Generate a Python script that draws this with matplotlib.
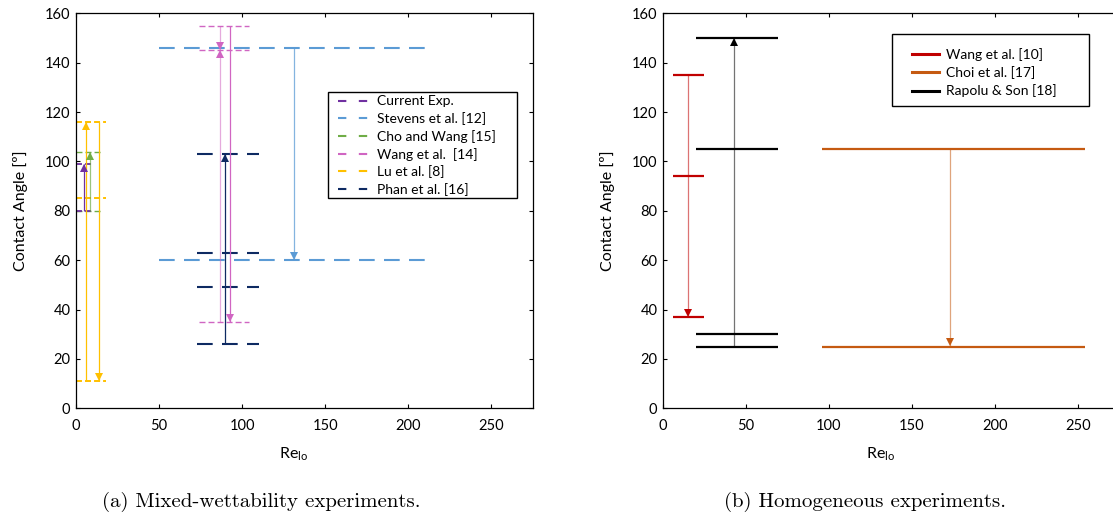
import matplotlib
matplotlib.use("Agg")
import matplotlib.pyplot as plt
from matplotlib.lines import Line2D
from matplotlib.patches import Rectangle
from matplotlib.transforms import offset_copy

plt.rcParams["font.family"] = ["Lato", "DejaVu Sans"]
plt.rcParams["mathtext.fontset"] = "custom"
plt.rcParams["mathtext.rm"] = "Lato"
plt.rcParams["mathtext.it"] = "Lato:italic"
plt.rcParams["lines.scale_dashes"] = False

# ---------------- data: mixed-wettability studies ----------------
current_re = [0, 10]
current_angles = [99, 80]
current_arrows = [(5, 80, 99)]

stevens_re = [50, 212]
stevens_angles = [146, 60]
stevens_arrows = [(131, 146, 60)]

cho_re = [0, 15]
cho_angles = [104, 80]
cho_arrows = [(8.5, 80, 104)]

wang14_re = [74, 104]
wang14_angles = [155, 145, 35]
wang14_arrows = [(87, 155, 145), (87, 35, 145), (93, 155, 35)]

lu_re = [0, 18]
lu_angles = [116, 85, 11]
lu_arrows = [(6, 11, 116), (14, 116, 11)]

phan_re = [73, 110]
phan_angles = [103, 63, 49, 26]
phan_arrows = [(90, 26, 103)]

mixed_labels = ["Current Exp.", "Stevens et al. [12]", "Cho and Wang [15]",
                "Wang et al.  [14]", "Lu et al. [8]", "Phan et al. [16]"]

# ---------------- data: homogeneous studies ----------------
wang10_re = [6, 25]
wang10_angles = [135, 94, 37]
wang10_arrows = [(15, 135, 37)]

choi_re = [96, 254]
choi_angles = [105, 25]
choi_arrows = [(173, 105, 25)]

rapolu_re = [20, 69]
rapolu_angles = [150, 105, 30, 25]
rapolu_arrows = [(43, 25, 150)]

homog_labels = ["Wang et al. [10]", "Choi et al. [17]", "Rapolu & Son [18]"]

x_ticks = [0, 50, 100, 150, 200, 250]
y_ticks = [0, 20, 40, 60, 80, 100, 120, 140, 160]

# ---------------- colours ----------------
C_PURPLE = "#7030A0"
C_BLUE = "#5B9BD5"
C_GREEN = "#70AD47"
C_PINK = "#D065C2"
C_GOLD = "#FFC000"
C_NAVY = "#0E2A62"
C_RED = "#C00000"
C_ORANGE = "#C55A11"
C_BLACK = "#000000"

W, H = 1113, 517
fig = plt.figure(figsize=(W / 100, H / 100), dpi=100)


def add_axes_px(x0, x1, ytop, ybot):
    return fig.add_axes([x0 / W, 1 - ybot / H, (x1 - x0) / W, (ybot - ytop) / H])


def style_axes(ax):
    ax.set_xlim(0, 275)
    ax.set_ylim(0, 160)
    ax.set_xticks(x_ticks)
    ax.set_yticks(y_ticks)
    ax.tick_params(direction="in", length=3, width=0.8, top=True, right=True,
                   labelsize=10.5)
    ax.tick_params(axis="x", pad=8)
    ax.tick_params(axis="y", pad=4)
    for s in ax.spines.values():
        s.set_linewidth(0.9)
    ax.set_xlabel(r"$\mathrm{Re}_{\mathrm{lo}}$", fontsize=11.5)
    ax.set_ylabel("Contact Angle [º]", fontsize=11.5)
    ax.xaxis.set_label_coords(0.477, -0.095)
    ax.yaxis.set_label_coords(-0.105, 0.5)


def levels(ax, re, angles, color, lw, dashes=None):
    for a in angles:
        if dashes is None:
            ax.plot(re, [a, a], color=color, lw=lw, solid_capstyle="butt", zorder=2)
        else:
            ax.plot(re, [a, a], color=color, lw=lw, dashes=dashes,
                    dash_capstyle="butt", zorder=2)


def arrows(ax, items, color, alpha=1.0, lw=0.9, ms=6):
    for x, start, end in items:
        ax.plot([x, x], [start, end], color=color, alpha=alpha, lw=lw,
                solid_capstyle="butt", zorder=3)
        up = end > start
        tr = offset_copy(ax.transData, fig=fig, y=(-ms / 2 if up else ms / 2),
                         units="points")
        ax.plot([x], [end], marker="^" if up else "v", ms=ms, color=color,
                mew=0, transform=tr, zorder=4)


# ================= (a) mixed wettability =================
ax1 = add_axes_px(76, 532.7, 13.3, 408.3)
style_axes(ax1)

long_dash = (11.3, 6.7)
short_dash = (4.3, 2.2)

levels(ax1, stevens_re, stevens_angles, C_BLUE, 1.5, long_dash)
levels(ax1, phan_re, phan_angles, C_NAVY, 1.5, long_dash)
levels(ax1, wang14_re, wang14_angles, C_PINK, 1.0, short_dash)
levels(ax1, lu_re, lu_angles, C_GOLD, 1.4, short_dash)
levels(ax1, cho_re, cho_angles, C_GREEN, 1.0, short_dash)
levels(ax1, current_re, current_angles, C_PURPLE, 1.3, short_dash)

arrows(ax1, stevens_arrows, C_BLUE, alpha=0.75)
arrows(ax1, phan_arrows, C_NAVY)
arrows(ax1, wang14_arrows[:2], C_PINK, alpha=0.55)
arrows(ax1, wang14_arrows[2:], C_PINK)
arrows(ax1, lu_arrows, C_GOLD)
arrows(ax1, cho_arrows, C_GREEN, alpha=0.7)
arrows(ax1, current_arrows, C_PURPLE)

mixed_colors = [C_PURPLE, C_BLUE, C_GREEN, C_PINK, C_GOLD, C_NAVY]
h1 = [Line2D([], [], color=c, lw=1.5, dashes=(6, 9)) for c in mixed_colors]
ax1.add_patch(Rectangle((0.5518, 0.5324), 0.9656 - 0.5518, 0.8008 - 0.5324,
                        transform=ax1.transAxes, facecolor="white",
                        edgecolor="black", lw=1.0, zorder=5))
leg1 = ax1.legend(h1, mixed_labels, loc="upper left",
                  bbox_to_anchor=(0.5737, 0.792), frameon=False, fontsize=10,
                  handlelength=2.38, handletextpad=0.43, labelspacing=0.34,
                  borderpad=0, borderaxespad=0)
leg1.set_zorder(6)

# ================= (b) homogeneous =================
ax2 = add_axes_px(663, 663 + 456.5, 13.3, 408.3)
style_axes(ax2)

levels(ax2, wang10_re, wang10_angles, C_RED, 1.6)
levels(ax2, choi_re, choi_angles, C_ORANGE, 1.6)
levels(ax2, rapolu_re, rapolu_angles, C_BLACK, 1.6)

arrows(ax2, wang10_arrows, C_RED, alpha=0.55)
arrows(ax2, choi_arrows, C_ORANGE, alpha=0.55)
arrows(ax2, rapolu_arrows, C_BLACK, alpha=0.55)

h2 = [Line2D([], [], color=c, lw=2.2) for c in [C_RED, C_ORANGE, C_BLACK]]
ax2.add_patch(Rectangle((0.5016, 0.7653), 0.9332 - 0.5016, 0.9476 - 0.7653,
                        transform=ax2.transAxes, facecolor="white",
                        edgecolor="black", lw=1.0, zorder=5))
leg2 = ax2.legend(h2, homog_labels, loc="upper left",
                  bbox_to_anchor=(0.5448, 0.912), frameon=False, fontsize=10,
                  handlelength=1.94, handletextpad=0.55, labelspacing=0.38,
                  borderpad=0, borderaxespad=0)
leg2.set_zorder(6)

# ================= sub-captions =================
fig.text(102 / W, 1 - 507 / H, "(a) Mixed-wettability experiments.",
         family="cmr10", fontsize=15, ha="left", va="baseline")
fig.text(1006 / W, 1 - 507 / H, "(b) Homogeneous experiments.",
         family="cmr10", fontsize=15, ha="right", va="baseline")

fig.savefig("out.png", dpi=100)
